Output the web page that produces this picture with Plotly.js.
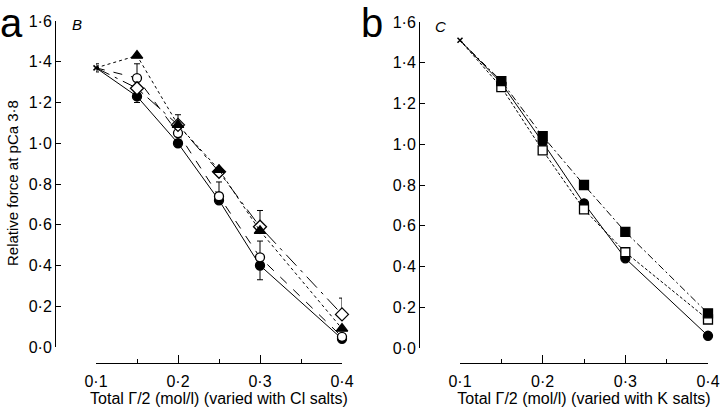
<!DOCTYPE html>
<html>
<head>
<meta charset="utf-8">
<script src="https://cdn.plot.ly/plotly-3.0.1.min.js"></script>
<style>html,body{margin:0;padding:0;background:#fff;}#chart{width:725px;height:412px;}</style>
</head>
<body>
<div id="chart"></div>
<script>
// ---- data ----
const ionicStrength = [0.1, 0.15, 0.2, 0.25, 0.3, 0.4];
const xTickVals = [0.1, 0.2, 0.3, 0.4];
const xTickText = ['0·1', '0·2', '0·3', '0·4'];
const yTickVals = [0, 0.2, 0.4, 0.6, 0.8, 1.0, 1.2, 1.4, 1.6];
const yTickText = ['0·0', '0·2', '0·4', '0·6', '0·8', '1·0', '1·2', '1·4', '1·6'];

// panel a (varied with Cl salts)
const startA = 1.37, startAErr = 0.02;
const aFilledCircle = [1.37, 1.23, 1.00, 0.72, 0.40, 0.04];
const aFilledCircleErrMinus = [0, 0.03, 0, 0, 0.07, 0];
const aOpenCircle = [1.37, 1.32, 1.05, 0.74, 0.44, 0.05];
const aOpenCircleErrPlus = [0, 0.07, 0, 0.07, 0.08, 0];
const aDiamond = [1.37, 1.27, 1.09, 0.86, 0.59, 0.16];
const aDiamondErrPlus = [0, 0, 0.05, 0, 0.08, 0.08];
const aTriangle = [1.37, 1.43, 1.09, 0.87, 0.57, 0.09];

// panel b (varied with K salts)
const startB = 1.51;
const bFilledSquare = [1.51, 1.31, 1.04, 0.80, 0.57, 0.17];
const bOpenSquare = [1.51, 1.28, 0.97, 0.68, 0.47, 0.14];
const bFilledCircle = [1.51, 1.30, 1.01, 0.71, 0.44, 0.06];

// ---- helpers ----
function series(xa, ya, y, symbol, fill, dash, size, errPlus, errMinus) {
  const t = {
    x: ionicStrength, y: y, xaxis: xa, yaxis: ya, type: 'scatter', mode: 'lines+markers',
    cliponaxis: false, showlegend: false,
    line: {color: '#000', width: 1, dash: dash},
    marker: {symbol: symbol, size: ionicStrength.map((v, i) => i === 0 ? 0 : size), opacity: 1,
      color: fill, line: {color: '#000', width: 1.3}}
  };
  if (errPlus || errMinus) {
    t.error_y = {type: 'data', symmetric: false,
      array: errPlus || ionicStrength.map(() => 0),
      arrayminus: errMinus || ionicStrength.map(() => 0),
      color: '#000', thickness: 1, width: 3};
  }
  return t;
}
function start(xa, ya, y, err) {
  const t = {x: [ionicStrength[0]], y: [y], xaxis: xa, yaxis: ya, type: 'scatter', mode: 'markers',
    cliponaxis: false, showlegend: false,
    marker: {symbol: 'x-thin-open', size: 5, opacity: 1, color: '#000', line: {color: '#000', width: 1.5}}};
  if (err) t.error_y = {type: 'constant', value: err, color: '#000', thickness: 1, width: 3};
  return t;
}

const traces = [
  series('x', 'y', aFilledCircle, 'circle', '#000', 'solid', 9, null, aFilledCircleErrMinus),
  series('x', 'y', aOpenCircle, 'circle', '#fff', 'dash', 9, aOpenCircleErrPlus, null),
  series('x', 'y', aDiamond, 'diamond', '#fff', 'longdashdot', 10, aDiamondErrPlus, null),
  series('x', 'y', aTriangle, 'triangle-up', '#000', 'dot', 10, null, null),
  start('x', 'y', startA, startAErr),
  series('x2', 'y2', bFilledCircle, 'circle', '#000', 'solid', 9, null, null),
  series('x2', 'y2', bOpenSquare, 'square', '#fff', '3px,2px', 9, null, null),
  series('x2', 'y2', bFilledSquare, 'square', '#000', '7px,3px,2px,3px', 9, null, null),
  start('x2', 'y2', startB, 0)
];

const W = 725, H = 412;
const fontFam = '"Liberation Sans", Arial, Helvetica, sans-serif';
function xAxis(domainPx, title) {
  return {
    domain: [domainPx[0] / W, domainPx[1] / W], range: [0.1, 0.4], anchor: 'free', position: 1 - 363 / H,
    showline: true, linecolor: '#000', linewidth: 1, showgrid: false, zeroline: false,
    tickmode: 'array', tickvals: xTickVals, ticktext: xTickText, ticks: 'inside', ticklen: 8, tickwidth: 1, tickcolor: '#000',
    minor: {tickmode: 'array', tickvals: [0.15, 0.25, 0.35], ticks: 'inside', ticklen: 4, tickwidth: 1, tickcolor: '#000', showgrid: false},
    tickfont: {family: fontFam, size: 16, color: '#000'}, ticklabelstandoff: 4,
    title: {text: title, font: {family: fontFam, size: 16, color: '#000'}, standoff: 3},
    fixedrange: true
  };
}
function yAxis(domainPx, posPx) {
  return {
    domain: [1 - domainPx[0] / H, 1 - domainPx[1] / H], range: [0, 1.6], anchor: 'free', position: posPx / W,
    showline: true, linecolor: '#000', linewidth: 1, showgrid: false, zeroline: false,
    tickmode: 'array', tickvals: yTickVals, ticktext: yTickText, ticks: 'inside', ticklen: 5, tickwidth: 1, tickcolor: '#000',
    tickfont: {family: fontFam, size: 16, color: '#000'}, fixedrange: true
  };
}

const layout = {
  width: W, height: H, margin: {l: 0, r: 0, t: 0, b: 0},
  paper_bgcolor: '#fff', plot_bgcolor: 'rgba(0,0,0,0)',
  font: {family: fontFam, color: '#000'},
  xaxis: xAxis([96, 342], 'Total Γ/2 (mol/l) (varied with Cl salts)'),
  yaxis: yAxis([347, 21], 55),
  xaxis2: xAxis([460, 708], 'Total Γ/2 (mol/l) (varied with K salts)'),
  yaxis2: yAxis([348, 22], 419),
  annotations: [
    {text: 'a', xref: 'paper', yref: 'paper', x: -1 / W, y: 1, xanchor: 'left', yanchor: 'top', borderpad: 0, showarrow: false, font: {family: fontFam, size: 40, color: '#000'}},
    {text: 'b', xref: 'paper', yref: 'paper', x: 360 / W, y: 1, xanchor: 'left', yanchor: 'top', borderpad: 0, showarrow: false, font: {family: fontFam, size: 40, color: '#000'}},
    {text: '<i>B</i>', xref: 'paper', yref: 'paper', x: 77 / W, y: 1 - 25 / H, xanchor: 'center', yanchor: 'middle', showarrow: false, font: {family: fontFam, size: 15, color: '#000'}},
    {text: '<i>C</i>', xref: 'paper', yref: 'paper', x: 440 / W, y: 1 - 27 / H, xanchor: 'center', yanchor: 'middle', showarrow: false, font: {family: fontFam, size: 15, color: '#000'}},
    {text: 'Relative force at pCa 3·8', xref: 'paper', yref: 'paper', x: 12 / W, y: 1 - 183 / H, xanchor: 'center', yanchor: 'middle', textangle: -90, showarrow: false, font: {family: fontFam, size: 15, color: '#000'}}
  ]
};

Plotly.newPlot('chart', traces, layout, {displayModeBar: false, staticPlot: true});
</script>
</body>
</html>
